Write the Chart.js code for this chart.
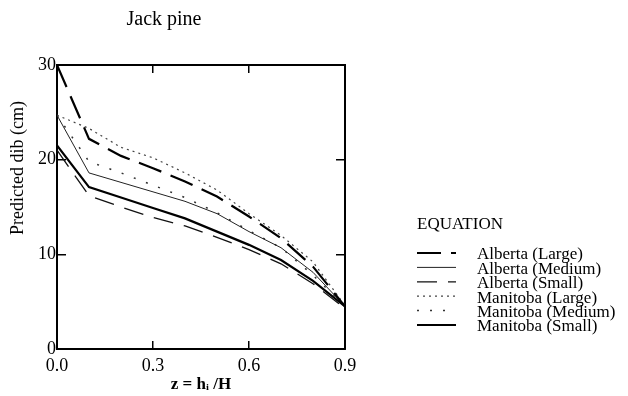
<!DOCTYPE html>
<html>
<head>
<meta charset="utf-8">
<script src="https://cdn.jsdelivr.net/npm/chart.js@4/dist/chart.umd.min.js"></script>
<style>
  html, body { margin: 0; padding: 0; background: #fff; }
  #wrap { width: 628px; height: 396px; position: relative; }
</style>
</head>
<body>
<div id="wrap"><canvas id="myChart"></canvas></div>
<script>
// relative height z = h_i / H
const zValues = [0.0, 0.1, 0.2, 0.3, 0.4, 0.5, 0.6, 0.7, 0.8, 0.9];
const xTicks = [0.0, 0.3, 0.6, 0.9];
const yTicks = [0, 10, 20, 30];

// predicted dib (cm)
const albertaLarge   = [30.0, 22.2, 20.4, 19.1, 17.7, 16.1, 14.0, 11.7, 8.7, 4.5];
const albertaMedium  = [24.7, 18.6, 17.6, 16.6, 15.6, 14.3, 12.4, 10.7, 8.1, 4.5];
const albertaSmall   = [21.0, 16.2, 15.0, 13.9, 13.0, 11.8, 10.5, 9.0, 6.9, 4.3];
const manitobaLarge  = [24.7, 23.3, 21.3, 20.2, 18.6, 16.8, 14.3, 12.0, 9.2, 4.6];
const manitobaMedium = [24.7, 19.8, 18.6, 17.3, 16.0, 14.4, 12.5, 10.7, 7.8, 4.5];
const manitobaSmall  = [21.5, 17.1, 16.0, 14.9, 13.8, 12.4, 11.0, 9.4, 7.2, 4.5];

const seriesNames = ['Alberta (Large)', 'Alberta (Medium)', 'Alberta (Small)',
                     'Manitoba (Large)', 'Manitoba (Medium)', 'Manitoba (Small)'];
const seriesValues = [albertaLarge, albertaMedium, albertaSmall,
                      manitobaLarge, manitobaMedium, manitobaSmall];
const seriesStyles = [
  { color: '#000', width: 2.2, dash: [24, 10] },
  { color: '#222', width: 1,   dash: [] },
  { color: '#111', width: 1.3, dash: [20, 11] },
  { color: '#444', width: 1.2, dash: [2, 4] },
  { color: '#333', width: 1.5, dash: [2, 11] },
  { color: '#000', width: 2.2, dash: [] }
];

const serif = "'Liberation Serif', 'DejaVu Serif', serif";

const datasets = seriesNames.map((name, i) => ({
  label: name,
  data: zValues.map((z, j) => ({ x: z, y: seriesValues[i][j] })),
  borderColor: seriesStyles[i].color,
  borderWidth: seriesStyles[i].width,
  borderDash: seriesStyles[i].dash,
  pointRadius: 0,
  tension: 0,
  fill: false
}));

// title, y-axis title and legend drawn on the canvas
const annotations = {
  id: 'annotations',
  afterDraw(chart) {
    const ctx = chart.ctx;
    ctx.save();
    ctx.fillStyle = '#000';
    ctx.textBaseline = 'middle';
    ctx.textAlign = 'center';
    ctx.font = '20px ' + serif;
    ctx.fillText('Jack pine', 164, 20);

    ctx.save();
    ctx.translate(18, 168);
    ctx.rotate(-Math.PI / 2);
    ctx.font = '18px ' + serif;
    ctx.fillText('Predicted dib (cm)', 0, 0);
    ctx.restore();

    ctx.textAlign = 'left';
    ctx.font = '17px ' + serif;
    ctx.fillText('EQUATION', 417, 225);
    chart.data.datasets.forEach((ds, i) => {
      const y = 254 + i * 14.4;
      ctx.strokeStyle = ds.borderColor;
      ctx.lineWidth = ds.borderWidth;
      ctx.setLineDash(ds.borderDash);
      ctx.beginPath();
      ctx.moveTo(417, y - 1);
      ctx.lineTo(456, y - 1);
      ctx.stroke();
      ctx.setLineDash([]);
      ctx.fillText(ds.label, 477, y + 1);
    });
    ctx.restore();
  }
};

const tickFont = { family: serif, size: 18 };

new Chart(document.getElementById('myChart'), {
  type: 'line',
  data: { datasets: datasets },
  options: {
    responsive: true,
    maintainAspectRatio: false,
    animation: false,
    layout: { padding: 0 },
    plugins: { legend: { display: false }, tooltip: { enabled: false } },
    scales: {
      x: {
        type: 'linear', position: 'bottom', min: 0, max: 0.9,
        afterFit: s => { s.height = 47; },
        afterBuildTicks: s => { s.ticks = xTicks.map(v => ({ value: v })); },
        ticks: { color: '#000', font: tickFont, padding: 14, maxRotation: 0,
                 callback: v => Number(v).toFixed(1) },
        grid: { drawOnChartArea: false, tickLength: -8, color: '#000', lineWidth: 1.5 },
        border: { color: '#000', width: 2 },
        title: { display: true, text: 'z = h\u1D62 /H', color: '#000',
                 font: { family: serif, size: 17, weight: 'bold' }, padding: { top: 0, bottom: 1 } }
      },
      x2: {
        type: 'linear', position: 'top', min: 0, max: 0.9,
        afterFit: s => { s.height = 65; },
        afterBuildTicks: s => { s.ticks = xTicks.map(v => ({ value: v })); },
        ticks: { display: false },
        grid: { drawOnChartArea: false, tickLength: -8, color: '#000', lineWidth: 1.5 },
        border: { color: '#000', width: 2 }
      },
      y: {
        type: 'linear', position: 'left', min: 0, max: 30,
        afterFit: s => { s.width = 57; },
        afterBuildTicks: s => { s.ticks = yTicks.map(v => ({ value: v })); },
        ticks: { color: '#000', font: tickFont, padding: 10 },
        grid: { drawOnChartArea: false, tickLength: -9, color: '#000', lineWidth: 1.5 },
        border: { color: '#000', width: 2 }
      },
      y2: {
        type: 'linear', position: 'right', min: 0, max: 30,
        afterFit: s => { s.width = 283; },
        afterBuildTicks: s => { s.ticks = yTicks.map(v => ({ value: v })); },
        ticks: { display: false },
        grid: { drawOnChartArea: false, tickLength: -9, color: '#000', lineWidth: 1.5 },
        border: { color: '#000', width: 2 }
      }
    }
  },
  plugins: [annotations]
});
</script>
</body>
</html>
